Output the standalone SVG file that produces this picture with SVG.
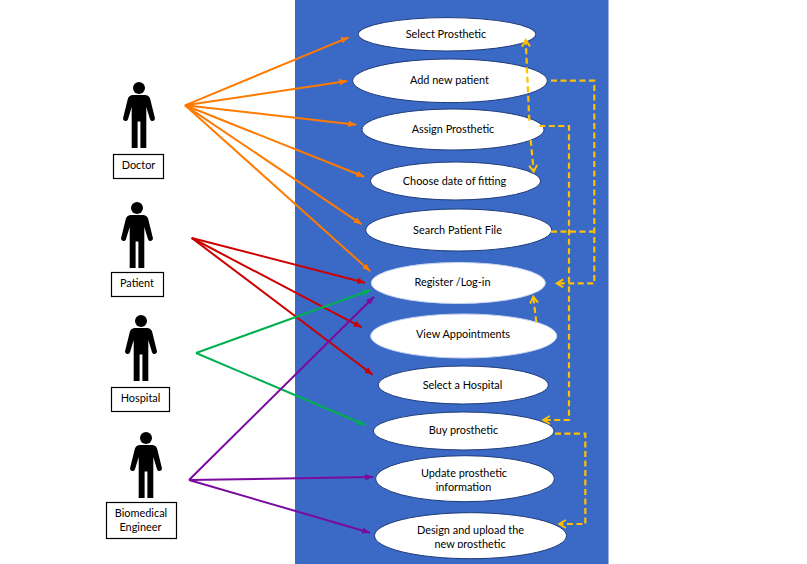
<svg xmlns="http://www.w3.org/2000/svg" width="807" height="564" viewBox="0 0 807 564">
<style>
text{font-family:Lato,"Liberation Sans",sans-serif;font-size:10.9px;fill:#000;text-anchor:middle}
.u{fill:#fff;stroke:#1f3a78;stroke-width:1}
.v{fill:#fff;stroke:#c9d6ee;stroke-width:1}
.b{fill:#fff;stroke:#000;stroke-width:1.2}
.c{fill:none;stroke-width:2}
.o{stroke:#ff7a00}.r{stroke:#cc0000}.g{stroke:#00b050}.p{stroke:#7a0aa0}
.y{fill:none;stroke:#ffc000;stroke-width:2.2;stroke-dasharray:6 3.5}
</style>
<defs>
<marker id="ao" markerUnits="userSpaceOnUse" markerWidth="10" markerHeight="8" refX="8" refY="4" orient="auto"><path d="M0 0.8L8 4L0 7.2Z" fill="#ff7a00"/></marker>
<marker id="ar" markerUnits="userSpaceOnUse" markerWidth="10" markerHeight="8" refX="8" refY="4" orient="auto"><path d="M0 0.8L8 4L0 7.2Z" fill="#cc0000"/></marker>
<marker id="ag" markerUnits="userSpaceOnUse" markerWidth="10" markerHeight="8" refX="8" refY="4" orient="auto"><path d="M0 0.8L8 4L0 7.2Z" fill="#00b050"/></marker>
<marker id="ap" markerUnits="userSpaceOnUse" markerWidth="10" markerHeight="8" refX="8" refY="4" orient="auto"><path d="M0 0.8L8 4L0 7.2Z" fill="#7a0aa0"/></marker>
<marker id="ay" markerUnits="userSpaceOnUse" markerWidth="10" markerHeight="10" refX="8" refY="5" orient="auto"><path d="M1.5 1L8 5L1.5 9" fill="none" stroke="#ffc000" stroke-width="2"/></marker>
<symbol id="person" viewBox="0 0 32 66" width="32" height="66" overflow="visible">
<circle cx="16" cy="6" r="6"/>
<path d="M9.5 13C7 13.4 5.4 14.8 4.8 17L0.1 36C-0.5 39 4 40.2 5 37.2L8.7 25V66H14.6V39.4H17.4V66H23.3V25L27 37.2C28 40.2 32.5 39 31.9 36L27.2 17C26.6 14.8 25 13.4 22.5 13Z"/>
</symbol>
<clipPath id="clipD"><rect x="374" y="512" width="194" height="36"/></clipPath>
</defs>
<rect x="295" y="0" width="313.5" height="564" fill="#3b69c6"/>

<g id="doctor"><use href="#person" x="123" y="82"/><rect class="b" x="113.5" y="154.5" width="50" height="24"/><text x="138.5" y="169">Doctor</text></g>
<g id="patient"><use href="#person" x="121" y="202"/><rect class="b" x="111.5" y="272.5" width="52" height="24"/><text x="137" y="287">Patient</text></g>
<g id="hospital"><use href="#person" x="125" y="315"/><rect class="b" x="111.5" y="387.5" width="58" height="24"/><text x="140.5" y="402">Hospital</text></g>
<g id="engineer"><use href="#person" x="130" y="432"/><rect class="b" x="106.5" y="502.5" width="70" height="36"/><text x="141" y="517">Biomedical</text><text x="140.5" y="531">Engineer</text></g>

<g id="uc-select-prosthetic"><ellipse class="u" cx="447" cy="34.3" rx="88.7" ry="16.7"/><text x="446" y="38">Select Prosthetic</text></g>
<g id="uc-add-patient"><ellipse class="u" cx="450" cy="80.8" rx="97.3" ry="21.8"/><text x="449.5" y="84">Add new patient</text></g>
<g id="uc-assign"><ellipse class="u" cx="453" cy="129.5" rx="91" ry="20.5"/><text x="453" y="133">Assign Prosthetic</text></g>
<g id="uc-choose-date"><ellipse class="u" cx="455.5" cy="181" rx="85" ry="19"/><text x="454.5" y="185">Choose date of fitting</text></g>
<g id="uc-search"><ellipse class="u" cx="458.7" cy="230" rx="93" ry="21"/><text x="457.5" y="234">Search Patient File</text></g>
<g id="uc-register"><ellipse class="v" cx="458.3" cy="283" rx="87" ry="20.5"/><text x="452.5" y="286">Register /Log-in</text></g>
<g id="uc-view"><ellipse class="v" cx="463.7" cy="336" rx="93" ry="22"/><text x="463" y="338">View Appointments</text></g>
<g id="uc-hospital"><ellipse class="u" cx="463.3" cy="385" rx="85" ry="19"/><text x="462.5" y="389">Select a Hospital</text></g>
<g id="uc-buy"><ellipse class="u" cx="463.7" cy="431" rx="90.3" ry="19"/><text x="463.5" y="434">Buy prosthetic</text></g>
<g id="uc-update"><ellipse class="u" cx="465" cy="478.7" rx="89.3" ry="23"/><text x="464" y="477">Update prosthetic</text><text x="463.5" y="491">information</text></g>
<g id="uc-design"><ellipse class="u" cx="470.5" cy="535.7" rx="96" ry="23"/><g clip-path="url(#clipD)"><text x="470.5" y="534">Design and upload the</text><text x="470" y="548">new prosthetic</text></g></g>

<g id="connectors">
<path class="c o" marker-end="url(#ao)" d="M185 105.3L348.7 37.3"/>
<path class="c o" marker-end="url(#ao)" d="M185 105.3L347.3 81"/>
<path class="c o" marker-end="url(#ao)" d="M185 105.3L356.3 124.7"/>
<path class="c o" marker-end="url(#ao)" d="M185 105.3L364.3 176.7"/>
<path class="c o" marker-end="url(#ao)" d="M185 105.3L361.7 224.3"/>
<path class="c o" marker-end="url(#ao)" d="M185 105.3L370.3 271.3"/>
<path class="c r" marker-end="url(#ar)" d="M191.7 238L365 282.7"/>
<path class="c r" marker-end="url(#ar)" d="M191.7 238L361.7 327.3"/>
<path class="c r" marker-end="url(#ar)" d="M191.7 238L372.7 374.7"/>
<path class="c g" marker-end="url(#ag)" d="M196 353L370.7 290"/>
<path class="c g" marker-end="url(#ag)" d="M196 353L365.3 425"/>
<path class="c p" marker-end="url(#ap)" d="M189 480L374 296.7"/>
<path class="c p" marker-end="url(#ap)" d="M189 480L373.3 477"/>
<path class="c p" marker-end="url(#ap)" d="M189 480L370 532.7"/>
<path class="y" marker-end="url(#ay)" d="M551 80.7H594.3V283.3H556.7"/>
<path class="y" d="M551 231.7H594.3"/>
<path class="y" marker-end="url(#ay)" d="M539.3 126H569V420H543.3"/>
<path class="y" marker-end="url(#ay)" d="M529.3 120.7L525.7 40"/>
<path class="y" marker-end="url(#ay)" d="M530.7 140L533.7 171.7"/>
<path class="y" marker-end="url(#ay)" d="M536.3 322.3L533.3 296.7"/>
<path class="y" marker-end="url(#ay)" d="M555 433.7H585.3V524H559.3"/>
</g>
</svg>
